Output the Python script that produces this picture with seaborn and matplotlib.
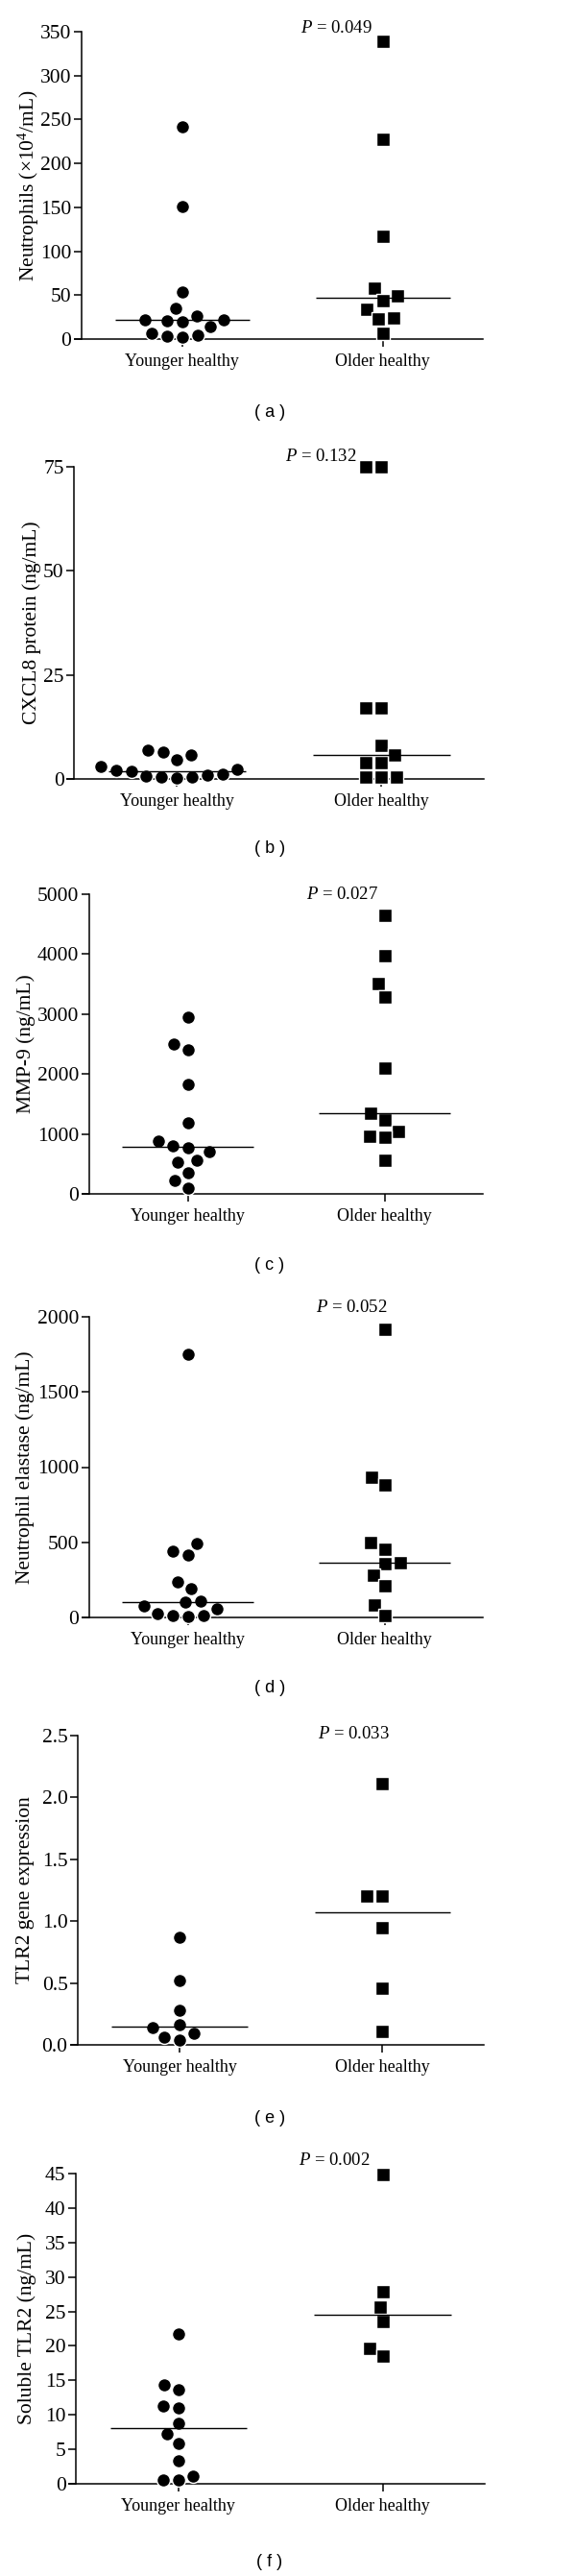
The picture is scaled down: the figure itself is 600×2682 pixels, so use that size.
import numpy as np
import pandas as pd
import seaborn as sns
import matplotlib
matplotlib.use("Agg")
import matplotlib.pyplot as plt

# Data
groups = ["Younger healthy", "Older healthy"]

neutrophils_young = [242, 151, 54, 35, 26, 22, 21, 14, 20, 22, 4, 2, 3, 7]
neutrophils_old = [339, 227, 117, 58, 44, 49, 34, 24, 23, 7]

cxcl8_young = [4.6, 2.2, 1.8, 1.0, 0.4, 0.3, 0.5, 0.8, 1.1, 2.0, 2.9, 6.4, 5.8, 6.9]
cxcl8_old = [75, 75, 17, 17, 8.0, 5.8, 4.0, 4.0, 0.4, 0.4, 0.4]

mmp9_young = [2950, 2500, 2400, 1830, 1180, 885, 775, 800, 700, 555, 535, 355, 225, 100]
mmp9_old = [4640, 3970, 3510, 3290, 2100, 1340, 1240, 1040, 960, 940, 560]

elastase_young = [1750, 495, 440, 415, 235, 190, 100, 110, 57, 74, 11, 4, 11, 25]
elastase_old = [1920, 930, 880, 500, 455, 355, 365, 280, 210, 85, 10]

tlr2_young = [0.87, 0.52, 0.28, 0.16, 0.14, 0.09, 0.04, 0.06]
tlr2_old = [2.11, 1.2, 1.2, 0.95, 0.46, 0.11]

stlr2_young = [21.7, 14.3, 13.6, 11.3, 11.0, 8.8, 7.3, 5.8, 3.4, 1.1, 0.5, 0.6]
stlr2_old = [44.8, 27.9, 25.6, 23.5, 19.7, 18.5]

ylabels = ["Neutrophils (\u00d710$^{4}$/mL)", "CXCL8 protein (ng/mL)", "MMP-9 (ng/mL)",
           "Neutrophil elastase (ng/mL)", "TLR2 gene expression", "Soluble TLR2 (ng/mL)"]
yticks = [np.arange(0, 351, 50), np.arange(0, 76, 25), np.arange(0, 5001, 1000),
          np.arange(0, 2001, 500), np.arange(0, 2.51, 0.5), np.arange(0, 46, 5)]
pvalues = ["0.049", "0.132", "0.027", "0.052", "0.033", "0.002"]
letters = ["a", "b", "c", "d", "e", "f"]

panels = [
    (neutrophils_young, neutrophils_old),
    (cxcl8_young, cxcl8_old),
    (mmp9_young, mmp9_old),
    (elastase_young, elastase_old),
    (tlr2_young, tlr2_old),
    (stlr2_young, stlr2_old),
]

# layout in pixels: left, right, top tick y, zero-line y
axes_px = [(78, 503, 33, 353), (70, 504, 486, 811), (86, 503, 931, 1243),
           (86, 503, 1371, 1684), (74, 504, 1807, 2129), (72, 505, 2263, 2586)]
ylabel_x = [30, 33, 27, 26, 27, 28]
ptext_px = [(350, 30), (334, 475), (357, 931), (366, 1362), (368, 1805), (348, 2250)]
letter_y = [430, 883, 1317, 1758, 2205, 2667]

W, H = 600, 2682

sns.set_theme(style="ticks")
plt.rcParams["font.family"] = ["Liberation Serif", "DejaVu Serif"]
plt.rcParams["mathtext.fontset"] = "custom"
plt.rcParams["mathtext.rm"] = "Liberation Serif"
plt.rcParams["mathtext.it"] = "Liberation Serif:italic"
plt.rcParams["axes.edgecolor"] = "black"
plt.rcParams["axes.linewidth"] = 1.1
plt.rcParams["text.color"] = "black"
plt.rcParams["axes.labelcolor"] = "black"
plt.rcParams["xtick.color"] = "black"
plt.rcParams["ytick.color"] = "black"

fig = plt.figure(figsize=(W / 100, H / 100), dpi=100)
fig.patch.set_facecolor("white")

for i, (young, old) in enumerate(panels):
    left, right, top, bottom = axes_px[i]
    ax = fig.add_axes([left / W, 1 - bottom / H, (right - left) / W, (bottom - top) / H])
    ax.set_facecolor("white")

    df = pd.DataFrame({
        "group": [groups[0]] * len(young) + [groups[1]] * len(old),
        "value": young + old,
    })

    # scatter columns, white ring keeps the GraphPad-like spacing between dots
    for grp, mk in zip(groups, ["o", "s"]):
        sns.swarmplot(data=df[df["group"] == grp], x="group", y="value", order=groups,
                      marker=mk, color="black", size=10, edgecolor="white",
                      linewidth=1, ax=ax, warn_thresh=1)
    for coll in ax.collections:
        coll.set_clip_on(False)

    # median lines
    for j, vals in enumerate([young, old]):
        ax.hlines(np.median(vals), j - 0.335, j + 0.335, color="black", lw=1, zorder=3)

    ax.set_xlim(-0.535, 1.5)
    ax.set_ylim(0, yticks[i][-1])
    ax.set_yticks(yticks[i])
    if i == 4:
        ax.set_yticklabels([f"{t:.1f}" for t in yticks[i]])
    ax.set_xticks([0, 1])
    ax.set_xticklabels(groups)
    ax.set_xlabel("")
    ax.set_ylabel(ylabels[i], fontsize=15.5, va="center")
    ax.yaxis.set_label_coords((ylabel_x[i] - left) / (right - left), 0.5)

    sns.despine(ax=ax)
    ax.spines["left"].set_position(("data", -0.5))
    ax.tick_params(axis="y", direction="out", length=5.8, width=1.1, labelsize=15.5, pad=2)
    ax.tick_params(axis="x", direction="out", length=5.8, width=1.1, labelsize=13, pad=5)

    px, py = ptext_px[i]
    fig.text(px / W, 1 - py / H, "$\\mathit{P}$ = " + pvalues[i], fontsize=13.5,
             ha="center", va="center")
    fig.text(281 / W, 1 - letter_y[i] / H, f"( {letters[i]} )", fontsize=13,
             family="Liberation Sans", ha="center", va="center")

fig.savefig("out.png", dpi=100)
